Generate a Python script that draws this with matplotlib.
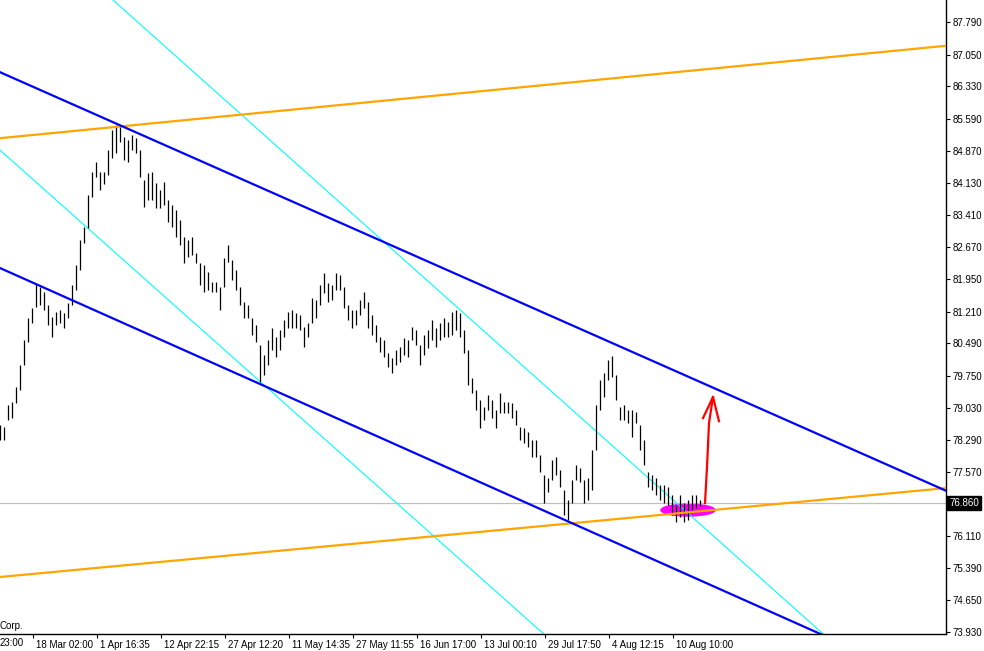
import matplotlib
matplotlib.use("Agg")
import matplotlib.pyplot as plt
from matplotlib.patches import Ellipse
from matplotlib.transforms import ScaledTranslation, blended_transform_factory

# ---- price bars (high / low), one bar per slot ----
highs = [78.63, 78.59, 79.09, 79.16, 79.50, 80.00, 80.57, 81.07, 81.29, 81.86,
         81.77, 81.66, 81.36, 81.09, 81.20, 81.25, 81.18, 81.41, 81.81, 82.27,
         82.84, 83.13, 83.86, 84.38, 84.61, 84.38, 84.38, 84.88, 85.34, 85.45,
         85.45, 85.18, 85.11, 85.22, 85.15, 84.88, 84.20, 84.36, 84.38, 84.13,
         83.97, 84.15, 83.75, 83.63, 83.52, 83.29, 82.90, 82.84, 82.90, 82.54,
         82.31, 82.27, 82.11, 81.88, 81.88, 81.77, 82.43, 82.72, 82.38, 82.16,
         81.77, 81.43, 81.36, 81.07, 80.91, 80.45, 80.22, 80.57, 80.84, 80.63,
         80.79, 81.02, 81.20, 81.25, 81.18, 81.13, 80.86, 80.95, 81.52, 81.47,
         81.81, 82.09, 81.86, 81.81, 82.09, 82.04, 81.77, 81.36, 81.25, 81.25,
         81.47, 81.66, 81.43, 81.13, 80.91, 80.63, 80.57, 80.27, 80.16, 80.34,
         80.41, 80.61, 80.57, 80.86, 80.79, 80.45, 80.68, 80.79, 81.02, 80.84,
         80.95, 81.07, 80.97, 81.20, 81.25, 81.18, 80.79, 80.34, 79.70, 79.43,
         79.20, 79.04, 79.32, 79.20, 78.97, 79.36, 79.16, 79.16, 79.13, 78.97,
         78.59, 78.57, 78.47, 78.29, 78.29, 77.95, 77.50, 77.43, 77.84, 77.91,
         77.61, 77.16, 76.93, 77.38, 77.73, 77.66, 77.38, 77.43, 78.07, 79.09,
         79.66, 79.82, 80.11, 80.20, 79.77, 79.04, 79.09, 78.97, 78.97, 78.93,
         78.63, 78.29, 77.57, 77.50, 77.43, 77.27, 77.27, 77.23, 77.04, 76.82,
         77.04, 76.86, 76.93, 77.04, 77.04, 76.93]
lows = [78.29, 78.29, 78.75, 78.79, 79.13, 79.43, 80.00, 80.52, 80.95, 81.31,
        81.36, 81.25, 80.91, 80.63, 80.91, 80.95, 80.84, 81.07, 81.36, 81.70,
        82.16, 82.77, 83.11, 83.81, 84.27, 83.97, 84.11, 84.31, 84.70, 84.81,
        85.06, 84.65, 84.61, 84.88, 84.81, 84.27, 83.59, 83.75, 83.75, 83.56,
        83.56, 83.63, 83.25, 83.13, 82.90, 82.72, 82.31, 82.45, 82.50, 82.31,
        81.81, 81.66, 81.70, 81.66, 81.66, 81.25, 81.77, 82.34, 81.93, 81.70,
        81.36, 81.07, 81.07, 80.68, 80.52, 79.61, 79.77, 80.00, 80.34, 80.18,
        80.34, 80.63, 80.84, 80.84, 80.84, 80.79, 80.41, 80.63, 80.95, 81.07,
        81.36, 81.63, 81.43, 81.47, 81.70, 81.70, 81.29, 81.02, 80.84, 80.91,
        81.13, 81.29, 80.84, 80.68, 80.52, 80.29, 80.18, 79.95, 79.82, 80.00,
        80.07, 80.22, 80.18, 80.57, 80.45, 80.00, 80.22, 80.38, 80.57, 80.41,
        80.57, 80.63, 80.63, 80.68, 80.79, 80.63, 80.27, 79.54, 79.36, 78.97,
        78.57, 78.75, 78.97, 78.79, 78.57, 78.91, 78.91, 78.91, 78.79, 78.63,
        78.29, 78.22, 78.13, 77.91, 77.91, 77.57, 76.86, 77.11, 77.38, 77.50,
        77.23, 76.59, 76.48, 76.86, 77.38, 77.34, 76.86, 76.93, 77.16, 78.07,
        78.97, 79.27, 79.66, 79.73, 79.20, 78.75, 78.75, 78.68, 78.36, 78.68,
        78.07, 77.73, 77.23, 77.16, 77.04, 76.93, 76.86, 76.82, 76.59, 76.43,
        76.54, 76.43, 76.48, 76.70, 76.75, 76.79]

current_price = 76.86

# ---- axis ticks ----
ytick_values = [87.79, 87.05, 86.33, 85.59, 84.87, 84.13, 83.41, 82.67, 81.95,
                81.21, 80.49, 79.75, 79.03, 78.29, 77.57, 76.11, 75.39, 74.65, 73.93]
xtick_positions = [8.25, 24.25, 40.25, 56.25, 72.25, 88.25, 104.25, 120.25,
                   136.25, 152.25, 168.25]
xtick_labels = ["18 Mar 02:00", "1 Apr 16:35", "12 Apr 22:15", "27 Apr 12:20",
                "11 May 14:35", "27 May 11:55", "16 Jun 17:00", "13 Jul 00:10",
                "29 Jul 17:50", "4 Aug 12:15", "10 Aug 10:00"]

# ---- trend lines: (x0, price0, x1, price1) ----
orange_upper = (0, 85.15, 236.5, 87.25)
orange_lower = (0, 75.18, 236.5, 77.20)
blue_upper = (0, 86.65, 236.0, 77.16)
blue_lower = (0, 82.20, 204.5, 73.91)
cyan_upper = (28.25, 88.29, 205.5, 73.91)
cyan_lower = (0, 84.88, 136.0, 73.88)

# ---- annotations ----
arrow_shaft_x = [176.25, 176.75, 177.25, 178.25]
arrow_shaft_p = [76.86, 77.68, 78.68, 79.27]
arrow_head_x = [175.75, 178.25, 179.75]
arrow_head_p = [78.79, 79.27, 78.72]
ellipse_center = (172.0, 76.70)
ellipse_size = (13.5, 0.27)

fig = plt.figure(figsize=(9.84, 6.51), dpi=100)
ax = fig.add_axes([0, 17 / 651, 946 / 984, 634 / 651])
ax.set_xlim(0, 236.5)
ax.set_ylim(73.885, 88.29)

font = "Liberation Sans"

# magenta highlight
ax.add_patch(Ellipse(ellipse_center, ellipse_size[0], ellipse_size[1],
                     facecolor="#FF00FF", edgecolor="#FF00FF", zorder=1))

# current price line
ax.axhline(current_price, color="#C0C0C0", lw=0.9, zorder=1.5)


def draw_line(spec, color, lw, z):
    x0, p0, x1, p1 = spec
    slope = (p1 - p0) / (x1 - x0)
    xa, xb = -20, 260
    ax.plot([xa, xb], [p0 + slope * (xa - x0), p0 + slope * (xb - x0)],
            color=color, lw=lw, zorder=z, solid_capstyle="butt")


draw_line(cyan_upper, "#00FFFF", 0.8, 2)
draw_line(cyan_lower, "#00FFFF", 0.8, 2)

# bars
xs = list(range(len(highs)))
ax.vlines(xs, lows, highs, color="black", lw=0.9, zorder=3)

draw_line(orange_upper, "#FFA500", 1.6, 4)
draw_line(orange_lower, "#FFA500", 1.6, 4)
draw_line(blue_upper, "#0000FF", 1.6, 4)
draw_line(blue_lower, "#0000FF", 1.6, 4)

# red arrow
ax.plot(arrow_shaft_x, arrow_shaft_p, color="#FF0000", lw=1.6, zorder=5)
ax.plot(arrow_head_x, arrow_head_p, color="#FF0000", lw=1.6, zorder=5)

# spines
for s in ("left", "top"):
    ax.spines[s].set_visible(False)
for s in ("right", "bottom"):
    ax.spines[s].set_color("black")
    ax.spines[s].set_linewidth(1.0)

ax.yaxis.tick_right()
ax.set_yticks(ytick_values)
ax.set_yticklabels([f"{v:.3f}" for v in ytick_values], fontfamily=font, fontsize=7)
ax.tick_params(axis="y", length=3, width=0.8, pad=2, colors="black")

ax.set_xticks(xtick_positions)
ax.set_xticklabels(xtick_labels, fontfamily=font, fontsize=7)
ax.tick_params(axis="x", length=3, width=0.8, pad=1.5, colors="black")
offset = ScaledTranslation(3 / 100, 0, fig.dpi_scale_trans)
for lab in ax.get_xticklabels():
    lab.set_horizontalalignment("left")
    lab.set_transform(lab.get_transform() + offset)

# partial first label
fig.text(0.0, (651 - 643) / 651, "23:00", fontfamily=font, fontsize=7,
         ha="left", va="center")

# copyright fragment
ax.text(0.0, (634 - 626) / 634, "Corp.", transform=ax.transAxes,
        fontfamily=font, fontsize=7, ha="left", va="center")

# current price label box
tr = blended_transform_factory(ax.transAxes, ax.transData)
ax.text(1.0 + 3 / 946, current_price, f"{current_price:.3f}", transform=tr,
        fontfamily=font, fontsize=7, color="white", ha="left", va="center",
        bbox=dict(boxstyle="square,pad=0.25", facecolor="black", edgecolor="black"),
        clip_on=False, zorder=10)

fig.savefig("out.png", dpi=100)
